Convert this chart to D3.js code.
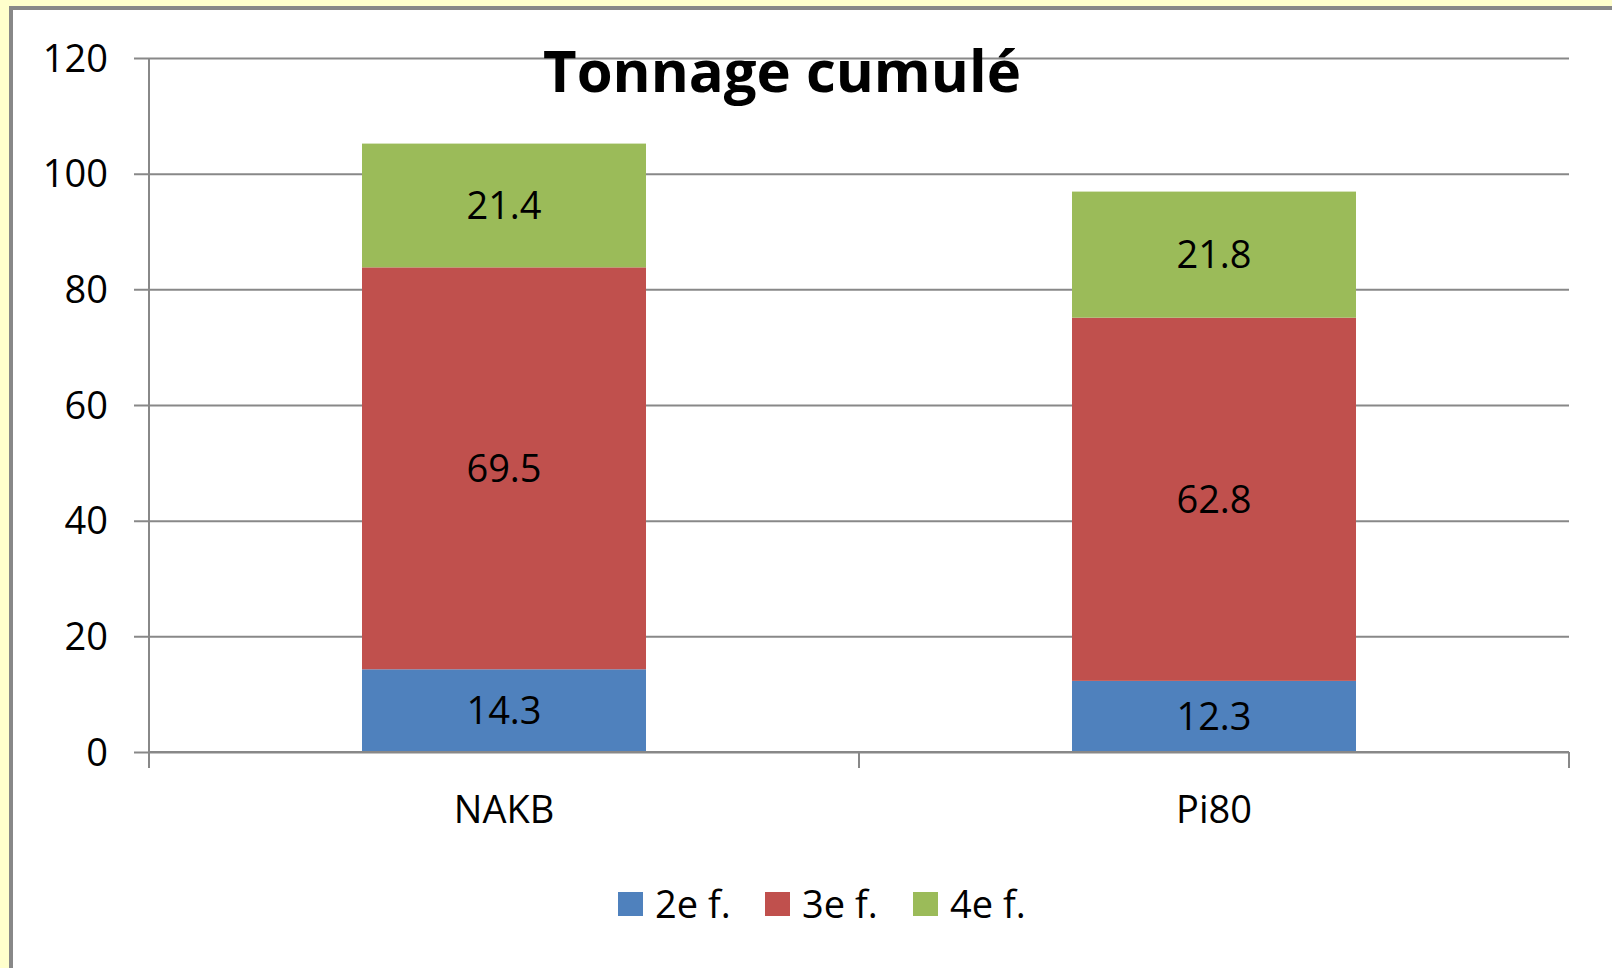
<!DOCTYPE html>
<html><head><meta charset="utf-8">
<script src="https://cdn.jsdelivr.net/npm/d3@7"></script>
<style>
html,body{margin:0;padding:0;background:#FFFFCC;overflow:hidden}
svg{display:block}
text{font-family:"Open Sans",Lato,sans-serif;fill:#000}
</style>
</head><body>
<svg id="c" width="1612" height="968"></svg>
<script>
const categories = ["NAKB", "Pi80"];
const seriesNames = ["2e f.", "3e f.", "4e f."];
const serie2e = [14.3, 12.3];
const serie3e = [69.5, 62.8];
const serie4e = [21.4, 21.8];
const yTicks = [0, 20, 40, 60, 80, 100, 120];
const colors = ["#4F81BD", "#C0504D", "#9BBB59"];
const chartTitle = "Tonnage cumulé";

(function () {
const svg = d3.select("#c");
// chart area
svg.append("rect").attr("x", 11).attr("y", 8).attr("width", 1620).attr("height", 980)
  .attr("fill", "#fff").attr("stroke", "#888").attr("stroke-width", 4);

const pLeft = 149, pRight = 1569, pTop = 58, pBottom = 752;
const x = d3.scaleBand().domain(categories).range([pLeft, pRight]).paddingInner(0.6).paddingOuter(0.3);
const y = d3.scaleLinear().domain([0, 120]).range([pBottom, pTop]);

const table = categories.map((c, i) => ({cat: c, "2e f.": serie2e[i], "3e f.": serie3e[i], "4e f.": serie4e[i]}));
const stacked = d3.stack().keys(seriesNames)(table);

// gridlines + y axis
const yAxis = d3.axisLeft(y).tickValues(yTicks).tickSize(15).tickPadding(26);
const gy = svg.append("g").attr("transform", `translate(${pLeft},0)`).call(yAxis);
gy.select(".domain").remove();
gy.selectAll(".tick line").attr("stroke", "#888").attr("stroke-width", 2)
  .attr("x1", -15).attr("x2", pRight - pLeft);
gy.selectAll(".tick text").attr("font-size", 38).attr("font-family", "Open Sans").attr("fill", "#000").attr("dy", "0.35em");

// y axis line
svg.append("line").attr("x1", pLeft).attr("x2", pLeft).attr("y1", pTop).attr("y2", pBottom + 16)
  .attr("stroke", "#888").attr("stroke-width", 2);

// bars
const groups = svg.append("g").selectAll("g").data(stacked).join("g").attr("fill", (d, i) => colors[i]);
groups.selectAll("rect").data(d => d).join("rect")
  .attr("x", d => x(d.data.cat)).attr("width", x.bandwidth())
  .attr("y", d => y(d[1])).attr("height", d => y(d[0]) - y(d[1]));

// data labels
groups.each(function (s) {
  d3.select(this).selectAll("text").data(s).join("text")
    .attr("x", d => x(d.data.cat) + x.bandwidth() / 2)
    .attr("y", d => (y(d[0]) + y(d[1])) / 2)
    .attr("dy", "0.35em").attr("text-anchor", "middle").attr("font-size", 38)
    .style("fill", "#000")
    .text(d => d3.format(".1f")(d[1] - d[0]));
});

// x axis
const xAxis = d3.axisBottom(x).tickSize(0).tickPadding(0);
const gx = svg.append("g").attr("transform", `translate(0,${pBottom})`).call(xAxis);
gx.select(".domain").remove();
gx.selectAll(".tick text").attr("font-size", 38).attr("font-family", "Open Sans").attr("fill", "#000").attr("y", 71).attr("dy", 0);
svg.append("line").attr("x1", pLeft).attr("x2", pRight).attr("y1", pBottom).attr("y2", pBottom)
  .attr("stroke", "#888").attr("stroke-width", 2);
const bounds = [pLeft, ...categories.slice(1).map(c => x(c) - x.step() * x.paddingInner() / 2), pRight];
svg.append("g").selectAll("line").data(bounds).join("line")
  .attr("x1", d => d).attr("x2", d => d).attr("y1", pBottom).attr("y2", pBottom + 16)
  .attr("stroke", "#888").attr("stroke-width", 2);

// title
svg.append("text").attr("x", 782).attr("y", 92).attr("text-anchor", "middle")
  .attr("font-size", 58).attr("font-weight", "bold").text(chartTitle);

// legend
const legendX = [618, 765, 913];
const lg = svg.append("g").selectAll("g").data(seriesNames).join("g")
  .attr("transform", (d, i) => `translate(${legendX[i]},892)`);
lg.append("rect").attr("width", 25).attr("height", 24).attr("fill", (d, i) => colors[i]);
lg.append("text").attr("x", 37).attr("y", 26).attr("font-size", 38).text(d => d);
})();
</script>
</body></html>
